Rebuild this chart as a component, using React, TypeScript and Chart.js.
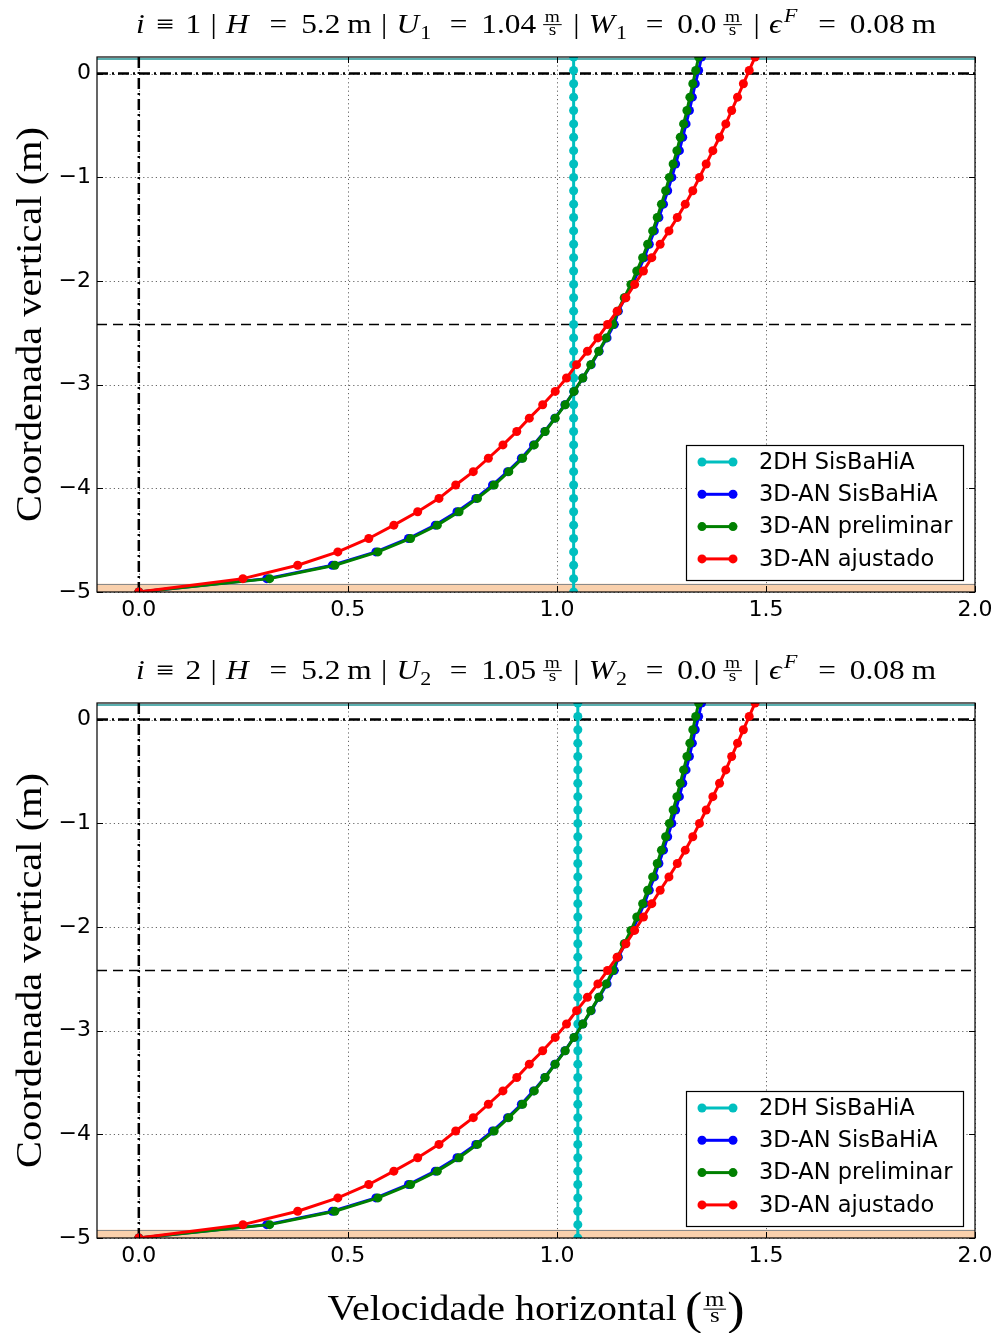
import { useEffect, useRef } from 'react';
import { Chart, registerables } from 'chart.js';

Chart.register(...registerables);

// Sigma levels of the 3D profile (m): 40 equal layers from the bed (-5.0) to the free surface (0.16)
const LEVELS = [
  -5.0, -4.871, -4.742, -4.613, -4.484, -4.355, -4.226, -4.097, -3.968, -3.839, -3.71,
  -3.581, -3.452, -3.323, -3.194, -3.065, -2.936, -2.807, -2.678, -2.549, -2.42,
  -2.291, -2.162, -2.033, -1.904, -1.775, -1.646, -1.517, -1.388, -1.259, -1.13,
  -1.001, -0.872, -0.743, -0.614, -0.485, -0.356, -0.227, -0.098, 0.031, 0.16,
];

// Horizontal velocity (m/s) at each level
const U_3D_SISBAHIA = [
  0, 0.306, 0.463, 0.567, 0.645, 0.709, 0.761, 0.806, 0.846, 0.882, 0.915,
  0.944, 0.971, 0.995, 1.019, 1.041, 1.062, 1.082, 1.101, 1.12, 1.137,
  1.147, 1.163, 1.181, 1.195, 1.209, 1.221, 1.233, 1.244, 1.255, 1.265,
  1.275, 1.284, 1.293, 1.301, 1.309, 1.317, 1.324, 1.331, 1.339, 1.346,
];
const U_3D_PRELIMINAR = [
  0, 0.313, 0.469, 0.572, 0.65, 0.714, 0.766, 0.81, 0.85, 0.885, 0.918,
  0.946, 0.972, 0.996, 1.02, 1.041, 1.062, 1.081, 1.1, 1.118, 1.134,
  1.145, 1.161, 1.177, 1.191, 1.205, 1.217, 1.229, 1.24, 1.25, 1.26,
  1.269, 1.278, 1.287, 1.295, 1.303, 1.311, 1.318, 1.325, 1.332, 1.339,
];
const U_3D_AJUSTADO = [
  0, 0.249, 0.38, 0.476, 0.55, 0.61, 0.667, 0.718, 0.758, 0.8, 0.836,
  0.871, 0.904, 0.934, 0.966, 0.996, 1.023, 1.047, 1.073, 1.098, 1.121,
  1.144, 1.165, 1.186, 1.207, 1.227, 1.247, 1.268, 1.288, 1.307, 1.325,
  1.341, 1.357, 1.373, 1.389, 1.404, 1.418, 1.432, 1.446, 1.46, 1.474,
];

// Station data
const STATIONS = [1, 2];
const U_2DH = [1.04, 1.05];
const W_2DH = [0.0, 0.0];
const DEPTH_H = 5.2;
const ROUGHNESS_EPS = 0.08;

// Axis and reference levels
const X_TICKS = [0, 0.5, 1.0, 1.5, 2.0];
const Y_TICKS = [-5, -4, -3, -2, -1, 0];
const X_MIN = -0.1;
const X_MAX = 2.0;
const BED_LEVEL = -5;
const FREE_SURFACE = 0.16;
const MEAN_LEVEL = 0;
const MID_DEPTH = -2.42;

const SERIES_LABELS = ['2DH SisBaHiA', '3D-AN SisBaHiA', '3D-AN preliminar', '3D-AN ajustado'];
const SERIES_COLORS = ['#00BFBF', '#0000FF', '#008000', '#FF0000'];

const SERIF = '"Liberation Serif", "DejaVu Serif", serif';
const SANS = '"DejaVu Sans", sans-serif';

type Seg = {
  t?: string;
  it?: boolean;
  sub?: boolean;
  sup?: boolean;
  frac?: [string, string];
  k?: number;
  dy?: number;
  gap?: number;
};

const serifFont = (size: number, italic?: boolean) => `${italic ? 'italic ' : ''}${size}px ${SERIF}`;

function segSize(s: Seg, size: number) {
  if (s.sub || s.sup) return size * 0.7;
  return size * (s.k ?? 1);
}

function segWidth(ctx: CanvasRenderingContext2D, s: Seg, size: number) {
  if (s.frac) {
    ctx.font = serifFont(size * 0.62);
    return Math.max(ctx.measureText(s.frac[0]).width, ctx.measureText(s.frac[1]).width) + 3;
  }
  ctx.font = serifFont(segSize(s, size), s.it);
  return ctx.measureText(s.t ?? '').width;
}

function drawRich(
  ctx: CanvasRenderingContext2D,
  segs: Seg[],
  cx: number,
  baseY: number,
  size: number,
  targetWidth: number,
) {
  const ws = segs.map((s) => segWidth(ctx, s, size));
  const natural = segs.reduce((a, s, i) => a + (s.gap ?? 0) + ws[i], 0);
  const sx = targetWidth / natural;
  ctx.save();
  ctx.translate(cx - (natural * sx) / 2, baseY);
  ctx.scale(sx, 1);
  ctx.fillStyle = '#000';
  ctx.textBaseline = 'alphabetic';
  let x = 0;
  segs.forEach((s, i) => {
    x += s.gap ?? 0;
    const w = ws[i];
    if (s.frac) {
      const fs = size * 0.62;
      ctx.font = serifFont(fs);
      const lineY = -size * 0.31;
      ctx.textAlign = 'center';
      ctx.fillText(s.frac[0], x + w / 2, lineY - size * 0.09);
      ctx.fillText(s.frac[1], x + w / 2, lineY + fs * 0.45 + size * 0.09);
      ctx.fillRect(x, lineY - 0.5, w, 1);
      ctx.textAlign = 'left';
    } else {
      ctx.font = serifFont(segSize(s, size), s.it);
      const dy = (s.dy ?? 0) + (s.sub ? size * 0.22 : s.sup ? -size * 0.42 : 0);
      ctx.textAlign = 'left';
      ctx.fillText(s.t ?? '', x, dy);
    }
    x += w;
  });
  ctx.restore();
}

function titleSegs(n: number, u: number, w: number): Seg[] {
  return [
    { t: 'i', it: true },
    { t: '\u2261', gap: 10 },
    { t: String(n), gap: 10 },
    { t: '|', gap: 8 },
    { t: 'H', it: true, gap: 8 },
    { t: '=', gap: 18 },
    { t: DEPTH_H.toFixed(1), gap: 12 },
    { t: 'm', gap: 6 },
    { t: '|', gap: 8 },
    { t: 'U', it: true, gap: 8 },
    { t: String(n), sub: true, gap: 1 },
    { t: '=', gap: 16 },
    { t: u.toFixed(2), gap: 12 },
    { frac: ['m', 's'], gap: 6 },
    { t: '|', gap: 10 },
    { t: 'W', it: true, gap: 8 },
    { t: String(n), sub: true, gap: 1 },
    { t: '=', gap: 16 },
    { t: w.toFixed(1), gap: 12 },
    { frac: ['m', 's'], gap: 6 },
    { t: '|', gap: 10 },
    { t: '\u03F5', it: true, gap: 8 },
    { t: 'F', it: true, sup: true, gap: 2 },
    { t: '=', gap: 18 },
    { t: ROUGHNESS_EPS.toFixed(2), gap: 12 },
    { t: 'm', gap: 6 },
  ];
}

const X_TITLE: Seg[] = [
  { t: 'Velocidade horizontal' },
  { t: '(', k: 1.3, dy: 4, gap: 7 },
  { frac: ['m', 's'], gap: 1 },
  { t: ')', k: 1.3, dy: 4, gap: 1 },
];

function makeProfilePlugin(idx: number, withXTitle: boolean) {
  return {
    id: 'profileDecor' + idx,
    beforeDatasetsDraw(chart: any) {
      const { ctx, chartArea: a, scales } = chart;
      const xs = scales.x;
      const ys = scales.y;
      ctx.save();
      // dotted grid
      ctx.strokeStyle = 'rgba(0,0,0,0.6)';
      ctx.lineWidth = 1;
      ctx.setLineDash([1.2, 3]);
      X_TICKS.forEach((v) => {
        const px = Math.round(xs.getPixelForValue(v)) + 0.5;
        ctx.beginPath();
        ctx.moveTo(px, a.top);
        ctx.lineTo(px, a.bottom);
        ctx.stroke();
      });
      Y_TICKS.forEach((v) => {
        const py = Math.round(ys.getPixelForValue(v)) + 0.5;
        ctx.beginPath();
        ctx.moveTo(a.left, py);
        ctx.lineTo(a.right, py);
        ctx.stroke();
      });
      ctx.setLineDash([]);

      // bed roughness layer
      const bedTop = ys.getPixelForValue(BED_LEVEL + ROUGHNESS_EPS);
      ctx.fillStyle = '#F9D0AC';
      ctx.fillRect(a.left, bedTop, a.right - a.left, a.bottom - bedTop);
      ctx.strokeStyle = '#8a8a8a';
      ctx.lineWidth = 1;
      ctx.beginPath();
      ctx.moveTo(a.left, Math.round(bedTop) + 0.5);
      ctx.lineTo(a.right, Math.round(bedTop) + 0.5);
      ctx.stroke();

      // free surface
      const fs = ys.getPixelForValue(FREE_SURFACE) + 2;
      ctx.strokeStyle = '#5AAFAF';
      ctx.lineWidth = 2;
      ctx.beginPath();
      ctx.moveTo(a.left, fs);
      ctx.lineTo(a.right, fs);
      ctx.stroke();

      // reference lines
      ctx.strokeStyle = '#000';
      ctx.lineWidth = 2.5;
      ctx.setLineDash([11, 4, 2, 4]);
      const y0 = ys.getPixelForValue(MEAN_LEVEL);
      ctx.beginPath();
      ctx.moveTo(a.left, y0);
      ctx.lineTo(a.right, y0);
      ctx.stroke();
      const x0 = xs.getPixelForValue(0);
      ctx.beginPath();
      ctx.moveTo(x0, a.top);
      ctx.lineTo(x0, a.bottom);
      ctx.stroke();
      ctx.lineWidth = 1.6;
      ctx.setLineDash([10, 6]);
      const yi = ys.getPixelForValue(MID_DEPTH);
      ctx.beginPath();
      ctx.moveTo(a.left, yi);
      ctx.lineTo(a.right, yi);
      ctx.stroke();
      ctx.restore();
    },
    afterDatasetsDraw(chart: any) {
      const { ctx, chartArea: a, scales } = chart;
      const xs = scales.x;
      const ys = scales.y;
      ctx.save();
      // frame
      ctx.strokeStyle = '#000';
      ctx.lineWidth = 1.2;
      ctx.strokeRect(a.left, a.top, a.right - a.left, a.bottom - a.top);
      // inward ticks on all sides
      const tl = 6;
      ctx.lineWidth = 1;
      X_TICKS.forEach((v) => {
        const px = Math.round(xs.getPixelForValue(v)) + 0.5;
        ctx.beginPath();
        ctx.moveTo(px, a.bottom);
        ctx.lineTo(px, a.bottom - tl);
        ctx.moveTo(px, a.top);
        ctx.lineTo(px, a.top + tl);
        ctx.stroke();
      });
      Y_TICKS.forEach((v) => {
        const py = Math.round(ys.getPixelForValue(v)) + 0.5;
        ctx.beginPath();
        ctx.moveTo(a.left, py);
        ctx.lineTo(a.left + tl, py);
        ctx.moveTo(a.right, py);
        ctx.lineTo(a.right - tl, py);
        ctx.stroke();
      });

      // legend
      const bw = 277;
      const bh = 135;
      const bx = a.right - 12 - bw;
      const by = a.bottom - 12 - bh;
      ctx.fillStyle = '#fff';
      ctx.fillRect(bx, by, bw, bh);
      ctx.strokeStyle = '#000';
      ctx.lineWidth = 1.2;
      ctx.strokeRect(bx + 0.5, by + 0.5, bw, bh);
      chart.data.datasets.forEach((ds: any, i: number) => {
        const ry = by + 17 + i * 32.3;
        ctx.strokeStyle = ds.borderColor;
        ctx.fillStyle = ds.borderColor;
        ctx.lineWidth = 3;
        ctx.beginPath();
        ctx.moveTo(bx + 16, ry);
        ctx.lineTo(bx + 47, ry);
        ctx.stroke();
        [bx + 16, bx + 47].forEach((mx) => {
          ctx.beginPath();
          ctx.arc(mx, ry, 4.5, 0, Math.PI * 2);
          ctx.fill();
        });
        ctx.fillStyle = '#000';
        ctx.font = `22.5px ${SANS}`;
        ctx.textBaseline = 'middle';
        ctx.textAlign = 'left';
        ctx.fillText(ds.label, bx + 73, ry + 1);
      });
      ctx.restore();
    },
    afterDraw(chart: any) {
      const { ctx, chartArea: a } = chart;
      const cx = (a.left + a.right) / 2;
      // subplot title
      drawRich(ctx, titleSegs(STATIONS[idx], U_2DH[idx], W_2DH[idx]), cx, a.top - 24, 27, 800);
      // vertical axis title
      ctx.save();
      ctx.translate(41, (a.top + a.bottom) / 2);
      ctx.rotate(-Math.PI / 2);
      ctx.font = serifFont(35);
      const yt = 'Coordenada vertical (m)';
      const sx = 395 / ctx.measureText(yt).width;
      ctx.scale(sx, 1);
      ctx.fillStyle = '#000';
      ctx.textAlign = 'center';
      ctx.textBaseline = 'alphabetic';
      ctx.fillText(yt, 0, 0);
      ctx.restore();
      // horizontal axis title
      if (withXTitle) {
        drawRich(ctx, X_TITLE, cx, a.bottom + 82, 35, 417);
      }
    },
  };
}

function ProfileChart({ idx, height, withXTitle }: { idx: number; height: number; withXTitle: boolean }) {
  const ref = useRef<HTMLCanvasElement | null>(null);
  useEffect(() => {
    const canvas = ref.current;
    if (!canvas) return;
    const series = [
      LEVELS.map(() => U_2DH[idx]),
      U_3D_SISBAHIA,
      U_3D_PRELIMINAR,
      U_3D_AJUSTADO,
    ];
    const chart = new Chart(canvas, {
      type: 'line',
      data: {
        datasets: series.map((vals, i) => ({
          label: SERIES_LABELS[i],
          data: vals.map((u, k) => ({ x: u, y: LEVELS[k] })),
          borderColor: SERIES_COLORS[i],
          backgroundColor: SERIES_COLORS[i],
          pointBackgroundColor: SERIES_COLORS[i],
          pointBorderColor: SERIES_COLORS[i],
          order: 4 - i,
        })),
      },
      options: {
        animation: false,
        responsive: false,
        maintainAspectRatio: false,
        events: [],
        layout: { padding: { left: 0, right: 19, top: 57, bottom: 0 } },
        elements: {
          line: { borderWidth: 3, tension: 0, fill: false },
          point: { radius: 4.5, borderWidth: 0, pointStyle: 'circle' },
        },
        plugins: {
          legend: { display: false },
          tooltip: { enabled: false },
          title: { display: false },
        },
        scales: {
          x: {
            type: 'linear',
            min: X_MIN,
            max: X_MAX,
            afterBuildTicks: (s: any) => {
              s.ticks = X_TICKS.map((v) => ({ value: v }));
            },
            afterFit: (s: any) => {
              s.height = height - 592;
              s.paddingLeft = 0;
              s.paddingRight = 0;
            },
            grid: { display: false, drawTicks: false },
            border: { display: false },
            ticks: {
              font: { family: SANS, size: 22 },
              color: '#000',
              padding: 5,
              maxRotation: 0,
              autoSkip: false,
              callback: (v: any) => Number(v).toFixed(1),
            },
          },
          y: {
            type: 'linear',
            min: BED_LEVEL,
            max: FREE_SURFACE,
            afterBuildTicks: (s: any) => {
              s.ticks = Y_TICKS.map((v) => ({ value: v }));
            },
            afterFit: (s: any) => {
              s.width = 97;
              s.paddingTop = 0;
              s.paddingBottom = 0;
            },
            grid: { display: false, drawTicks: false },
            border: { display: false },
            ticks: {
              font: { family: SANS, size: 22 },
              color: '#000',
              padding: 6,
              autoSkip: false,
              callback: (v: any) => (Number(v) < 0 ? '\u2212' + Math.abs(Number(v)) : String(v)),
            },
          },
        },
      },
      plugins: [makeProfilePlugin(idx, withXTitle)],
    } as any);
    return () => chart.destroy();
  }, [idx, height, withXTitle]);
  return <canvas ref={ref} width={994} height={height} style={{ display: 'block' }} />;
}

export default function App() {
  return (
    <div style={{ position: 'absolute', left: 0, top: 0, width: 994, height: 1333, background: '#fff' }}>
      <div style={{ position: 'absolute', left: 0, top: 0 }}>
        <ProfileChart idx={0} height={646} withXTitle={false} />
      </div>
      <div style={{ position: 'absolute', left: 0, top: 646 }}>
        <ProfileChart idx={1} height={687} withXTitle={true} />
      </div>
    </div>
  );
}
